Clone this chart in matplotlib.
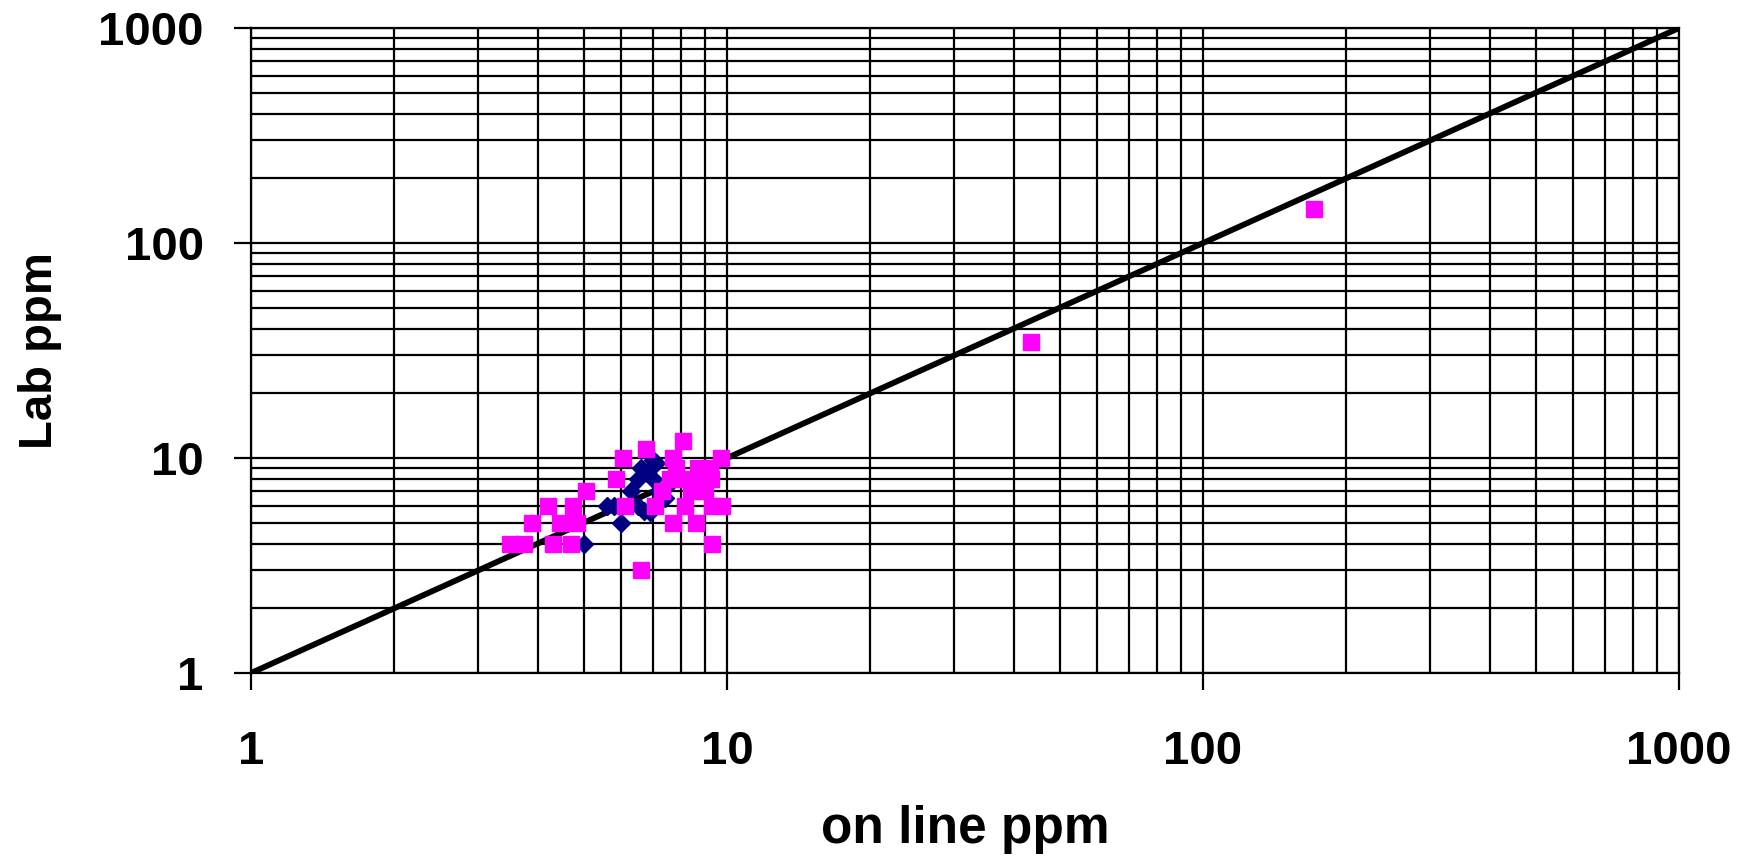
import matplotlib
matplotlib.use("Agg")
import matplotlib.pyplot as plt
from matplotlib.ticker import FixedLocator, FixedFormatter, LogLocator, NullFormatter

plt.rcParams['font.family'] = ['Liberation Sans', 'DejaVu Sans']

# On-line vs lab data (ppm)
online_blue = [5.0, 5.6, 6.0, 5.8, 6.3, 6.5, 6.6, 7.0, 6.5, 6.7, 6.9, 7.4, 7.0, 7.2, 7.5, 6.8, 7.1]
lab_blue    = [4.0, 6.0, 5.0, 6.0, 7.0, 8.0, 9.0, 9.8, 6.0, 5.7, 5.6, 6.5, 8.0, 7.0, 7.5, 8.5, 9.5]

online_mag = [3.5, 3.75, 4.3, 4.7, 9.3,
              3.9, 4.45, 4.85, 7.7, 8.6,
              4.2, 4.75, 6.1, 7.05, 8.15, 9.3, 9.75,
              5.05, 7.3, 8.4, 9.0,
              5.85, 7.6, 8.2, 8.75, 9.25,
              7.8, 8.7, 9.2,
              6.05, 7.7, 9.7,
              6.75, 8.1, 6.6,
              43.5, 171.0]
lab_mag    = [4, 4, 4, 4, 4,
              5, 5, 5, 5, 5,
              6, 6, 6, 6, 6, 6, 6,
              7, 7, 7, 7,
              8, 8, 8, 8, 8,
              9, 9, 9,
              10, 10, 10,
              11, 12, 3,
              34.5, 144.0]

line_x = [1, 1000]
line_y = [1, 1000]
tick_vals = [1, 10, 100, 1000]
tick_labels = ["1", "10", "100", "1000"]

fig = plt.figure(figsize=(17.49, 8.60), dpi=100)
ax = fig.add_axes([0.1435, 0.2174, 0.8165, 0.75])
ax.set_xscale('log')
ax.set_yscale('log')
ax.set_xlim(1, 1000)
ax.set_ylim(1, 1000)

ax.grid(True, which='both', color='black', linewidth=1.6)
ax.set_axisbelow(True)

ax.plot(line_x, line_y, color='black', linewidth=4.2, zorder=3)
ax.plot(online_blue, lab_blue, linestyle='none', marker='D', markersize=9.5,
        color='#000080', markeredgecolor='#000080', zorder=4)
ax.plot(online_mag, lab_mag, linestyle='none', marker='s', markersize=12,
        color='#FF00FF', markeredgecolor='#FF00FF', zorder=5)

for axis in (ax.xaxis, ax.yaxis):
    axis.set_major_locator(FixedLocator(tick_vals))
    axis.set_major_formatter(FixedFormatter(tick_labels))
    axis.set_minor_locator(LogLocator(base=10, subs=range(2, 10)))
    axis.set_minor_formatter(NullFormatter())

ax.tick_params(which='major', direction='out', length=12, width=1.6, color='black',
               labelsize=34, pad=22)
ax.tick_params(axis='x', which='major', pad=29)
ax.tick_params(which='minor', length=0)
for lab in ax.get_xticklabels() + ax.get_yticklabels():
    lab.set_fontweight('bold')

for sp in ax.spines.values():
    sp.set_color('black')
    sp.set_linewidth(1.6)

ax.set_xlabel('on line ppm', fontsize=37, fontweight='bold', labelpad=22)
ax.set_ylabel('Lab ppm', fontsize=34, fontweight='bold', labelpad=26)

fig.savefig('out.png', dpi=100, facecolor='white')
